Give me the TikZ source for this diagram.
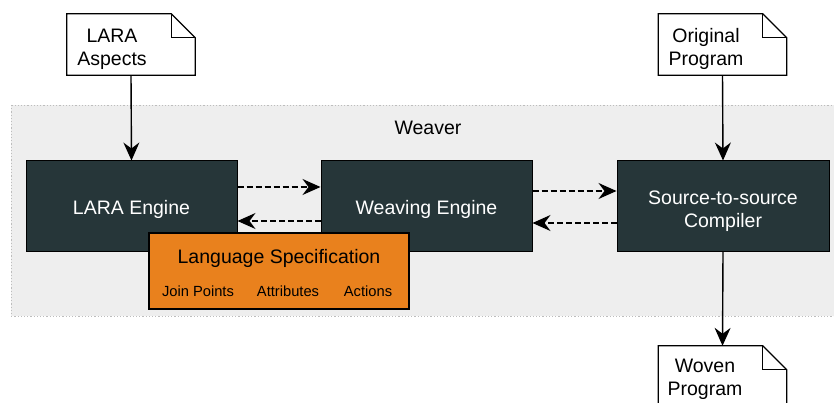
\documentclass[tikz,border=0pt]{standalone}
\usepackage{fontspec}
\setmainfont{Liberation Sans}
\usetikzlibrary{arrows.meta,calc}
\definecolor{enginefill}{HTML}{263639}
\definecolor{specfill}{HTML}{E9811D}
\definecolor{weaverbg}{HTML}{EEEEEE}
\definecolor{weaverline}{HTML}{BDBDBD}
\tikzset{
  big/.style={font=\fontsize{19.5}{23}\selectfont},
  small/.style={font=\fontsize{14.7}{17}\selectfont},
  engine/.style={draw=black, line width=1pt, fill=enginefill,
    minimum width=211pt, minimum height=90pt, inner sep=0pt},
  enginetext/.style={text=white, big, align=center, inner sep=0pt},
  doc/.style={minimum width=128pt, minimum height=61pt, inner sep=0pt},
  doctext/.style={big, align=center, inner sep=0pt},
  flow/.style={line width=1.4pt, -{Stealth[length=18pt,width=16pt,inset=6pt]}},
  call/.style={flow, dash pattern=on 6pt off 3pt},
}
% document outline with a folded top-right corner
\newcommand\docoutline[1]{%
  \draw[line width=1.2pt, fill=white] (#1.north west) -- ($(#1.north east)+(-24,0)$)
    -- ($(#1.north east)+(0,24)$) -- (#1.south east) -- (#1.south west) -- cycle;
  \draw[line width=1.2pt, line join=miter] ($(#1.north east)+(-24,0)$) -- ($(#1.north east)+(-24,24)$)
    -- ($(#1.north east)+(0,24)$);}
\begin{document}
\begin{tikzpicture}[x=1pt,y=-1pt]
\useasboundingbox (0,0) rectangle (834,403);
\clip (0,0) rectangle (834,403);

% weaver container
\draw[fill=weaverbg, draw=weaverline, line width=0.8pt, dash pattern=on 1.2pt off 2pt]
  (11,105) rectangle (860,316);
\node[big] (weaverT) at (428,128) {Weaver};

% input / output documents
\node[doc] (aspects) at (131,44.5) {};
\docoutline{aspects}
\node[doctext] (aspectsT) at (112,49) {LARA\\Aspects};

\node[doc] (orig) at (722.5,44.5) {};
\docoutline{orig}
\node[doctext] (origT) at (706,49) {Original\\Program};

\node[doc] (woven) at (722.5,376.5) {};
\docoutline{woven}
\node[doctext] (wovenT) at (705,379.5) {Woven\\Program};

% engines
\node[engine] (lara) at (131.5,206) {};
\node[engine] (weave) at (426.5,206) {};
\node[engine, minimum width=212pt] (s2s) at (723,206) {};
\node[enginetext] (laraT) at (131.5,209) {LARA Engine};
\node[enginetext] (weaveT) at (426.5,209) {Weaving Engine};
\node[enginetext] (s2sT) at (723,211.5) {Source-to-source\\Compiler};

% connectors
\draw[flow] (aspects.south) -- (lara.north);
\draw[flow] (orig.south) -- (s2s.north);
\draw[flow] (s2s.south) -- (woven.north);

\draw[call] ($(lara.east)+(0,-19)$) -- ($(weave.west)+(0,-19)$);
\draw[call] ($(weave.west)+(0,15)$) -- ($(lara.east)+(0,15)$);
\draw[call] ($(weave.east)+(0,-15)$) -- ($(s2s.west)+(0,-15)$);
\draw[call] ($(s2s.west)+(0,17)$) -- ($(weave.east)+(0,17)$);

% language specification
\node[draw=black, line width=1.3pt, fill=specfill, minimum width=260pt, minimum height=76pt,
  inner sep=0pt] (spec) at (279,271) {};
\node[big] (specT) at (279,258) {Language Specification};
\node[small] (jp) at (198,291) {Join Points};
\node[small] (attr) at (288,291) {Attributes};
\node[small] (act) at (368,291) {Actions};
\end{tikzpicture}
\end{document}
